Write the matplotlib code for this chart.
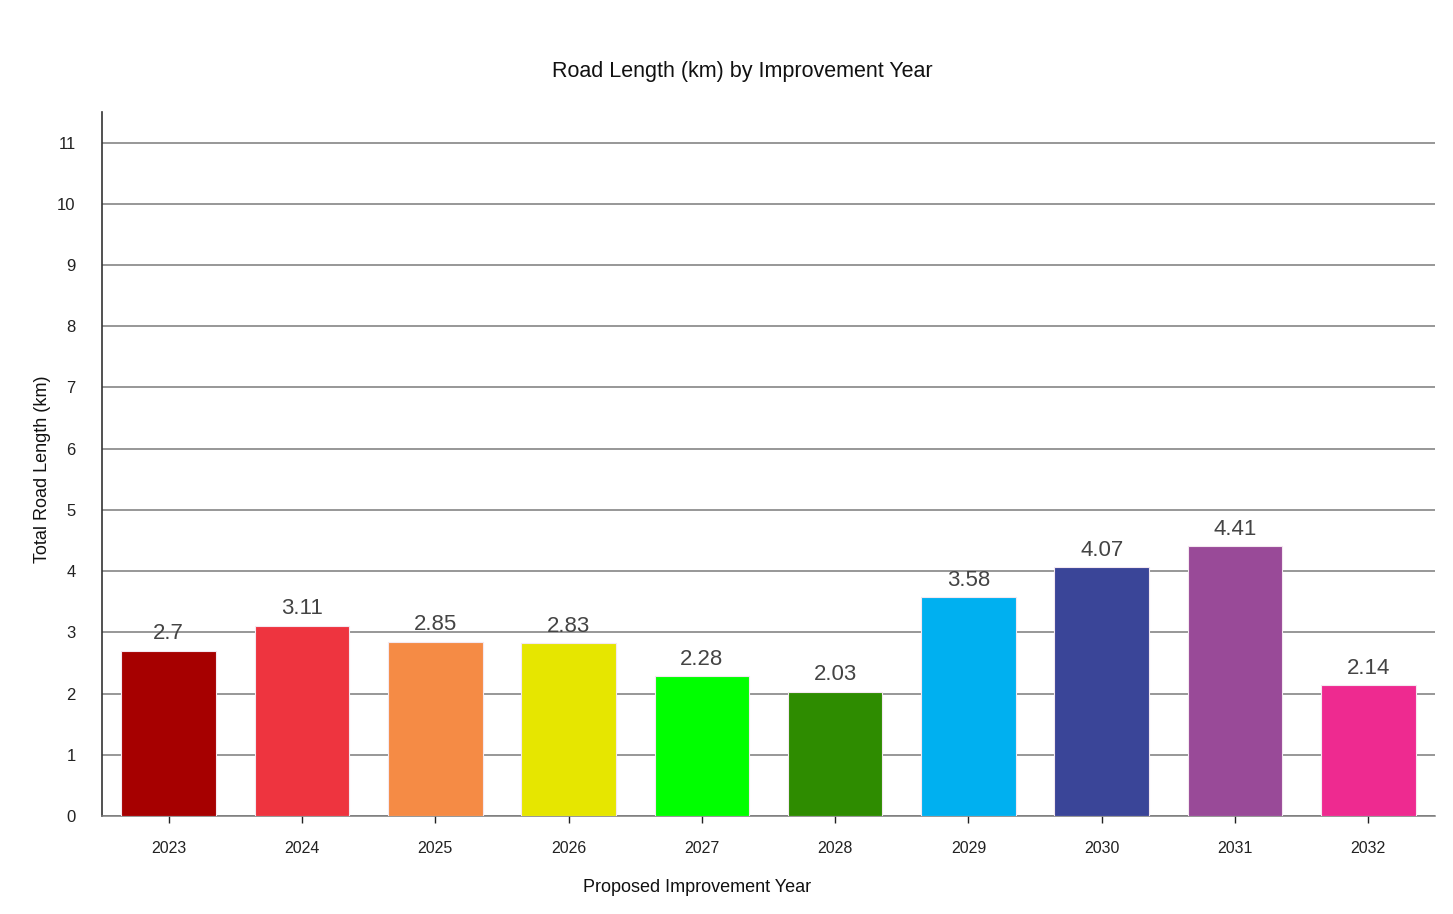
import numpy as np
import matplotlib.pyplot as plt

# data
years = ['2023', '2024', '2025', '2026', '2027', '2028', '2029', '2030', '2031', '2032']
lengths = [2.7, 3.11, 2.85, 2.83, 2.28, 2.03, 3.58, 4.07, 4.41, 2.14]
bar_colors = ['#A60000', '#EE343F', '#F58B45', '#E6E600', '#00FF00',
              '#2E8C00', '#00B0F0', '#3A4598', '#994A98', '#EE2A90']
y_ticks = list(range(0, 12))

font = ['Liberation Sans', 'DejaVu Sans']
plt.rcParams['font.family'] = font

fig = plt.figure(figsize=(14.53, 9.14), dpi=100)
ax = fig.add_axes([0.0702, 0.1072, 0.9174, 0.7703])

x = np.arange(len(years))
bars = ax.bar(x, lengths, width=0.71, color=bar_colors, edgecolor='#f4e8f0',
              linewidth=0.8, zorder=3)

# labels above bars
for bar, val in zip(bars, lengths):
    ax.annotate(f'{val:g}', (bar.get_x() + bar.get_width() / 2, bar.get_height()),
                xytext=(0, 4.5), textcoords='offset points', ha='center', va='bottom',
                fontsize=16, color='#444444', zorder=4)

ax.set_xlim(-0.5, len(years) - 0.5)
ax.set_ylim(0, 11.5)
ax.set_xticks(x)
ax.set_xticklabels(years, fontsize=11.5, color='#222222')
ax.set_yticks(y_ticks)
ax.set_yticklabels([str(t) for t in y_ticks], fontsize=12, color='#222222')
ax.tick_params(axis='y', length=0, pad=19)
ax.tick_params(axis='x', length=5, width=1, color='#222222', pad=13)

ax.yaxis.grid(True, color='#7a7a7a', linewidth=1.1, zorder=0)
ax.set_axisbelow(True)
for side in ['top', 'right']:
    ax.spines[side].set_visible(False)
ax.spines['left'].set_color('#333333')
ax.spines['left'].set_linewidth(1.2)
ax.spines['bottom'].set_color('#7a7a7a')
ax.spines['bottom'].set_linewidth(1.1)

fig.text(0.511, 0.922, 'Road Length (km) by Improvement Year', fontsize=15.5,
         color='#111111', ha='center', va='center')
fig.text(0.480, 0.0295, 'Proposed Improvement Year', fontsize=13,
         color='#111111', ha='center', va='center')
fig.text(0.029, 0.487, 'Total Road Length (km)', fontsize=13, color='#111111',
         rotation=90, ha='center', va='center')

plt.savefig('out.png', dpi=100)
